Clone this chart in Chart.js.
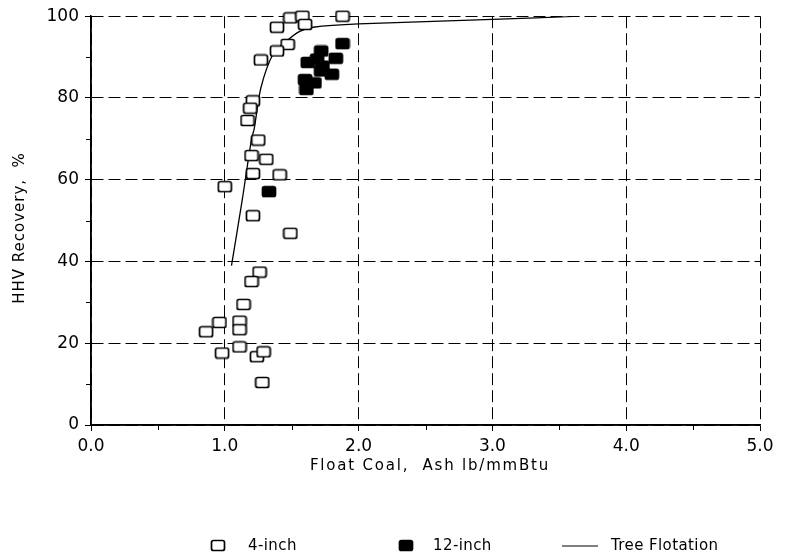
<!DOCTYPE html>
<html>
<head>
<meta charset="utf-8">
<script src="https://cdn.jsdelivr.net/npm/chart.js@4/dist/chart.umd.min.js"></script>
<style>
  html, body { margin: 0; padding: 0; background: #fff; }
  #wrap { width: 787px; height: 560px; position: relative; }
</style>
</head>
<body>
<div id="wrap"><canvas id="chart"></canvas></div>
<script>
// ── data ──────────────────────────────────
const xTicks = [0, 1, 2, 3, 4, 5];
const yTicks = [0, 20, 40, 60, 80, 100];

// 4-inch column (open squares)
const ash4 = [1.39, 1.49, 1.58, 1.60, 1.88, 1.47, 1.39, 1.27, 1.21, 1.19, 1.17, 1.25,
  1.20, 1.31, 1.21, 1.41, 1.00, 1.21, 1.49, 1.26, 1.20, 1.14, 1.11, 1.11, 0.96, 0.86,
  0.98, 1.11, 1.24, 1.29, 1.28];
const rec4 = [97.3, 99.6, 100, 98.0, 100, 93.1, 91.5, 89.3, 79.3, 77.5, 74.5, 69.7,
  65.9, 65.0, 61.5, 61.2, 58.3, 51.2, 46.9, 37.4, 35.1, 29.5, 25.4, 23.3, 25.1, 22.8,
  17.6, 19.1, 16.7, 17.9, 10.4];

// 12-inch column (filled squares)
const ash12 = [1.88, 1.83, 1.72, 1.69, 1.62, 1.73, 1.80, 1.60, 1.67, 1.61, 1.72, 1.33];
const rec12 = [93.3, 89.7, 91.5, 89.5, 88.7, 87.8, 85.8, 84.5, 83.7, 82.1, 86.6, 57.1];

// tree flotation curve
const ashTree = [1.05, 1.13, 1.20, 1.22, 1.27, 1.36, 1.46, 1.56, 1.66, 2.0, 3.0, 3.65];
const recTree = [39, 55, 70, 72.5, 82.5, 90.7, 93.9, 96.3, 97.3, 98.1, 99.2, 100];

const labels = ['4-inch', '12-inch', 'Tree Flotation'];

const pts = (xs, ys) => xs.map((x, i) => ({ x: x, y: ys[i] }));

// small rounded box markers
function boxMarker(filled) {
  const c = document.createElement('canvas');
  c.width = 16; c.height = 13;
  const g = c.getContext('2d');
  g.beginPath();
  g.roundRect(1.5, 1.5, 13, 10, 2);
  g.fillStyle = filled ? '#000' : '#fff';
  g.fill();
  g.lineWidth = 1.7;
  g.strokeStyle = '#000';
  g.stroke();
  return c;
}
const openBox = boxMarker(false);
const fillBox = boxMarker(true);

const FONT = '"DejaVu Sans", Verdana, sans-serif';

// ── solid axes, minor ticks, axis titles, legend ─────
const extras = {
  id: 'extras',
  beforeDatasetsDraw(chart) {
    const { ctx, chartArea: a } = chart;
    ctx.save();
    ctx.strokeStyle = '#000';
    ctx.lineWidth = 1.5;
    ctx.setLineDash([]);
    ctx.beginPath();
    ctx.moveTo(a.left, a.top);
    ctx.lineTo(a.left, a.bottom);
    ctx.lineTo(a.right, a.bottom);
    ctx.stroke();
    ctx.restore();
  },
  afterDraw(chart) {
    const { ctx, chartArea: a, scales: { x, y } } = chart;
    ctx.save();
    ctx.strokeStyle = '#000';
    ctx.lineWidth = 1;
    ctx.setLineDash([]);
    for (let v = 0.5; v < 5; v += 1) {
      const px = Math.round(x.getPixelForValue(v)) + 0.5;
      ctx.beginPath(); ctx.moveTo(px, a.bottom); ctx.lineTo(px, a.bottom + 5); ctx.stroke();
    }
    for (let v = 10; v < 100; v += 20) {
      const py = Math.round(y.getPixelForValue(v)) + 0.5;
      ctx.beginPath(); ctx.moveTo(a.left - 5, py); ctx.lineTo(a.left, py); ctx.stroke();
    }

    ctx.fillStyle = '#000';
    ctx.font = '15px ' + FONT;
    ctx.textAlign = 'center';
    ctx.textBaseline = 'middle';
    ctx.letterSpacing = '1.8px';
    ctx.fillText('Float Coal,  Ash lb/mmBtu', 430, 466);

    ctx.letterSpacing = '1px';
    ctx.save();
    ctx.translate(20, 228);
    ctx.rotate(-Math.PI / 2);
    ctx.fillText('HHV Recovery,  %', 0, 0);
    ctx.restore();

    // legend row
    const ly = 546;
    ctx.textAlign = 'left';
    ctx.font = '15px ' + FONT;
    ctx.letterSpacing = '0.4px';
    ctx.drawImage(openBox, 210, ly - 7);
    ctx.fillText(labels[0], 248, ly);
    ctx.drawImage(fillBox, 398, ly - 7);
    ctx.fillText(labels[1], 433, ly);
    ctx.beginPath(); ctx.moveTo(562, ly); ctx.lineTo(598, ly); ctx.stroke();
    ctx.fillText(labels[2], 611, ly);
    ctx.restore();
  }
};

const gridStyle = {
  color: '#000',
  lineWidth: 1,
  tickLength: 6,
  tickColor: '#000',
  tickBorderDash: [],
};

new Chart(document.getElementById('chart'), {
  type: 'scatter',
  data: {
    datasets: [
      {
        label: labels[0],
        data: pts(ash4, rec4),
        pointStyle: openBox,
        clip: false,
        order: 2,
      },
      {
        label: labels[1],
        data: pts(ash12, rec12),
        pointStyle: fillBox,
        clip: false,
        order: 1,
      },
      {
        label: labels[2],
        data: pts(ashTree, recTree),
        showLine: true,
        borderColor: '#000',
        borderWidth: 1.3,
        pointRadius: 0,
        tension: 0.3,
        order: 3,
      },
    ],
  },
  options: {
    responsive: true,
    maintainAspectRatio: false,
    animation: false,
    layout: { padding: { top: 15, right: 27, left: 0, bottom: 0 } },
    plugins: { legend: { display: false }, tooltip: { enabled: false } },
    scales: {
      x: {
        type: 'linear',
        min: 0, max: 5,
        afterBuildTicks: s => { s.ticks = xTicks.map(v => ({ value: v })); },
        afterFit: s => { s.height = 135; },
        ticks: {
          color: '#000',
          font: { family: FONT, size: 17 },
          padding: 5,
          maxRotation: 0,
          callback: v => v.toFixed(1),
        },
        grid: gridStyle,
        border: { color: '#000', width: 1.5, dash: [12, 5] },
      },
      y: {
        type: 'linear',
        min: 0, max: 100,
        afterBuildTicks: s => { s.ticks = yTicks.map(v => ({ value: v })); },
        afterFit: s => { s.width = 91; },
        ticks: {
          color: '#000',
          font: { family: FONT, size: 17 },
          padding: 6,
        },
        grid: gridStyle,
        border: { color: '#000', width: 1.5, dash: [12, 5] },
      },
    },
  },
  plugins: [extras],
});
</script>
</body>
</html>
